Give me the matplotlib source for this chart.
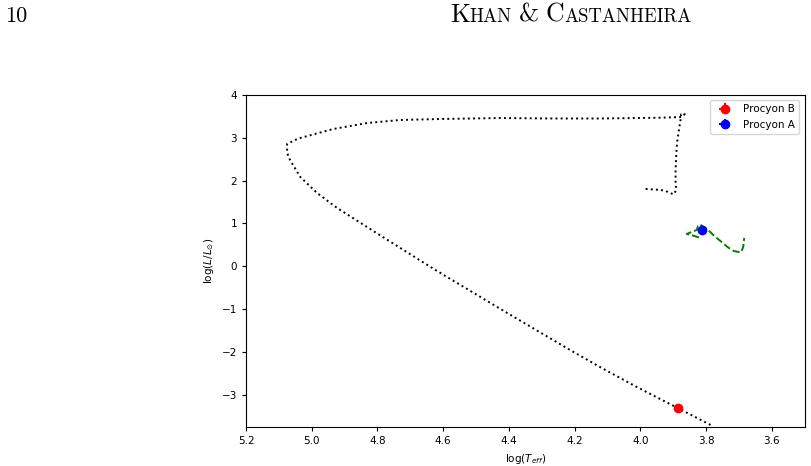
import numpy as np
import matplotlib.pyplot as plt

# white dwarf cooling track (log Teff, log L/Lsun)
wd_logt = [3.984, 3.938, 3.923, 3.908, 3.898, 3.891, 3.893, 3.893, 3.891, 3.888,
           3.882, 3.877, 3.876, 3.865, 3.874, 3.938, 4.121, 4.273, 4.426, 4.603,
           4.731, 4.831, 4.935, 5.035, 5.051, 5.075, 5.075, 5.066, 5.035, 4.984,
           4.923, 4.801, 4.630, 4.426, 4.212, 4.121, 4.020, 3.917, 3.778]
wd_logl = [1.806, 1.783, 1.759, 1.706, 1.682, 1.783, 1.976, 2.209, 2.599, 2.909,
           3.222, 3.455, 3.549, 3.556, 3.486, 3.469, 3.451, 3.451, 3.462, 3.440,
           3.416, 3.346, 3.205, 2.996, 2.949, 2.856, 2.646, 2.482, 2.086, 1.713,
           1.363, 0.768, -0.056, -0.994, -1.962, -2.359, -2.779, -3.187, -3.735]

# main sequence track for Procyon A
ms_logt = [3.822, 3.841, 3.859, 3.844, 3.828, 3.825, 3.819, 3.807, 3.794, 3.776,
           3.754, 3.734, 3.716, 3.694, 3.687, 3.684]
ms_logl = [0.674, 0.721, 0.756, 0.803, 0.849, 0.943, 0.978, 0.919, 0.849, 0.716,
           0.576, 0.446, 0.359, 0.324, 0.453, 0.663]

# observed stars
stars = ['Procyon B', 'Procyon A']
star_logt = [3.887, 3.813]
star_logl = [-3.30, 0.84]
star_terr = [0.005, 0.004]
star_lerr = [0.03, 0.02]
star_col = ['red', 'blue']

fig = plt.figure(figsize=(8.12, 4.66), dpi=100)
ax = fig.add_axes([0.303, 0.0837, 0.688, 0.7125])

ax.plot(wd_logt, wd_logl, 'k:', lw=1.4)
ax.plot(ms_logt, ms_logl, '--', color='green', lw=1.4)
for name, t, l, te, le, c in zip(stars, star_logt, star_logl, star_terr, star_lerr, star_col):
    ax.errorbar(t, l, xerr=te, yerr=le, fmt='o', color=c, ms=6, label=name)

ax.set_xlim(5.2, 3.5)
ax.set_ylim(-3.75, 4)
ax.set_xticks(np.arange(5.2, 3.55, -0.2))
ax.set_yticks(range(-3, 5))
ax.tick_params(labelsize=7.5, length=3)
ax.set_xlabel(r'log($T_{eff}$)', fontsize=7.5)
ax.set_ylabel(r'log($L/L_{\odot}$)', fontsize=7.5)
ax.legend(loc='upper right', fontsize=7.5)

# page header
fig.text(0.006, 0.953, '10', family='cmr10', fontsize=16, va='baseline')
r = fig.canvas.get_renderer()
x = 450 / 812.0
pieces = [('K', 18.5), ('HAN', 13.5), (' ', 18), ('&', 18.5), (' ', 18), ('C', 18.5), ('ASTANHEIRA', 13.5)]
for s, fs in pieces:
    t = fig.text(x, 0.953, s, family='cmr10', fontsize=fs, va='baseline')
    bb = t.get_window_extent(r)
    x += bb.width / fig.bbox.width if s.strip() else 7 / 812.0

fig.savefig('out.png', dpi=100)
